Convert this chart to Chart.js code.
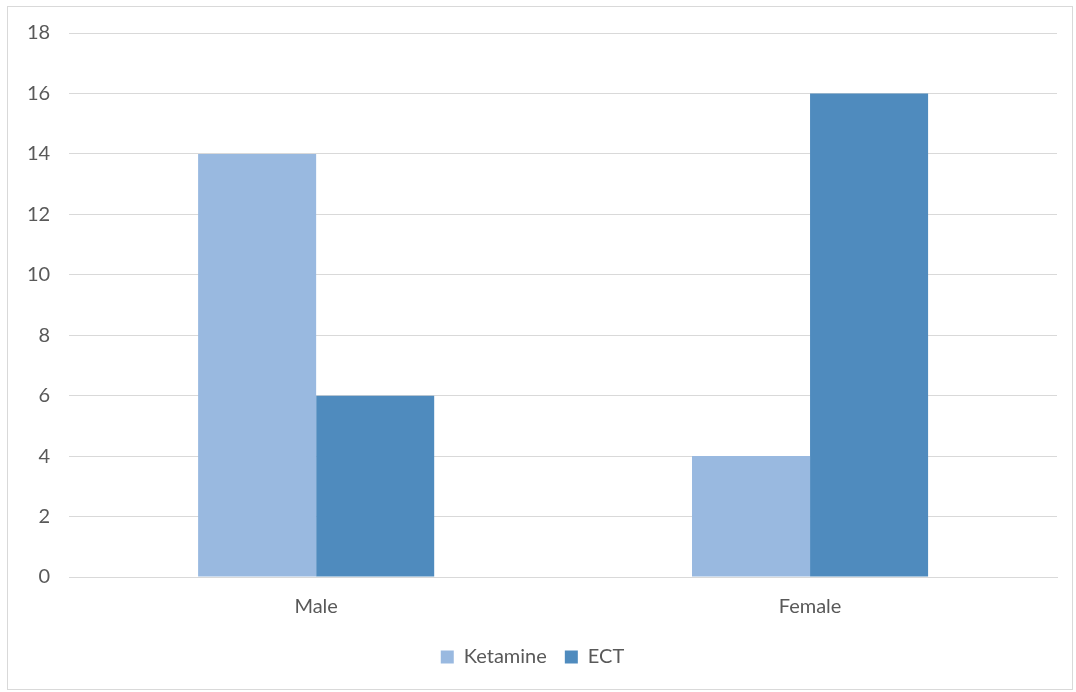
<!DOCTYPE html>
<html>
<head>
<meta charset="utf-8">
<script src="https://cdn.jsdelivr.net/npm/chart.js@4"></script>
<style>
  body { margin: 0; background: #fff; }
  #frame { position: absolute; left: 7px; top: 6px; width: 1064px; height: 682px; border: 1px solid #d9d9d9; }
  #wrap { position: absolute; left: 8px; top: 2px; width: 1064px; height: 687px; }
</style>
</head>
<body>
<div id="frame"></div>
<div id="wrap"><canvas id="myChart"></canvas></div>
<script>
let categories = ["Male", "Female"];
let ketamine = [14, 4];
let ect = [6, 16];
let yTicks = [0, 2, 4, 6, 8, 10, 12, 14, 16, 18];

let ctx = document.getElementById("myChart").getContext("2d");

let myChart = new Chart(ctx, {
  type: "bar",
  data: {
    labels: categories,
    datasets: [
      { label: "Ketamine", data: ketamine, backgroundColor: "#99b9e0" },
      { label: "ECT", data: ect, backgroundColor: "#4f8bbe" },
    ],
  },
  options: {
    responsive: true,
    maintainAspectRatio: false,
    animation: false,
    categoryPercentage: 0.478,
    barPercentage: 1,
    layout: { padding: { top: 10, right: 15, left: 0, bottom: 12 } },
    plugins: {
      legend: {
        position: "bottom",
        labels: {
          boxWidth: 13,
          boxHeight: 13,
          color: "#595959",
          font: { family: "Lato", size: 20 },
          padding: 18,
        },
      },
      tooltip: { enabled: false },
    },
    scales: {
      x: {
        grid: { display: false },
        border: { color: "#d9d9d9" },
        ticks: { color: "#595959", font: { family: "Lato", size: 20 }, padding: 10 },
      },
      y: {
        min: 0,
        max: 18,
        afterBuildTicks: (axis) => {
          axis.ticks = yTicks.map((v) => ({ value: v }));
        },
        grid: { color: "#d9d9d9", drawTicks: false },
        border: { display: false },
        ticks: { color: "#595959", font: { family: "Lato", size: 20 }, padding: 19 },
      },
    },
  },
});
</script>
</body>
</html>
